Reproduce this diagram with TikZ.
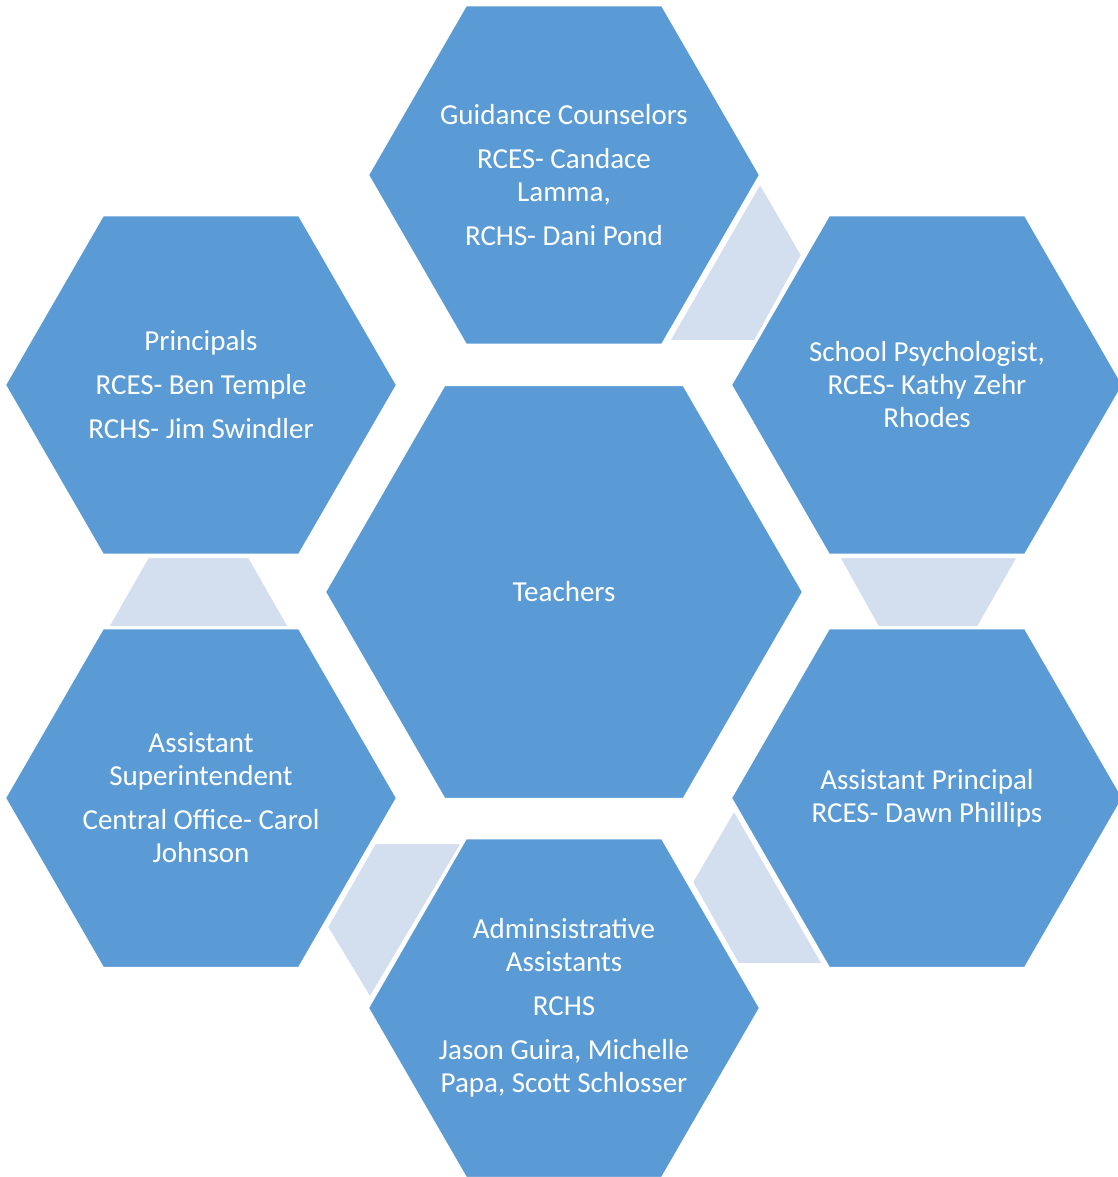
\documentclass[tikz,border=0pt]{standalone}
\usepackage{fontspec}
\setmainfont{Carlito}
\usetikzlibrary{shapes.geometric}

\definecolor{hexblue}{HTML}{5B9BD5}
\definecolor{linkblue}{HTML}{D3DEEF}

\begin{document}
\begin{tikzpicture}[x=0.5pt,y=-0.5pt,
        hexsty/.style={
            regular polygon, regular polygon sides=6,
            draw=white, line width=1pt, fill=hexblue,
            minimum size=196pt, inner sep=-25pt,
            text=white, align=center,
            font=\fontsize{14.5}{16.5}\selectfont,
        },
        bighexsty/.style={hexsty, minimum size=239pt},
        linksty/.style={fill=linkblue, draw=white, line width=1pt},
    ]
    \useasboundingbox (0,0) rectangle (1118,1177);

    % links behind the hexagons
    \filldraw[linksty] (669,341) -- (760,183) -- (802,255) -- (755,341) -- cycle;
    \filldraw[linksty] (839,557) -- (1018,557) -- (978,627) -- (878,627) -- cycle;
    \filldraw[linksty] (734,810) -- (823,964) -- (738,964) -- (692,882) -- cycle;
    \filldraw[linksty] (375,843) -- (462,843) -- (370,998) -- (327,927) -- cycle;
    \filldraw[linksty] (148,557) -- (249,557) -- (289,627) -- (108,627) -- cycle;

    \node[bighexsty] at (564,592) (teach) {Teachers};

    \node[hexsty] at (564,175) (guid) {Guidance Counselors\\[5.5pt]
        RCES- Candace\\ Lamma,\\[5.5pt] RCHS- Dani Pond};
    \node[hexsty] at (927,385) (psych) {School Psychologist,\\
        RCES- Kathy Zehr\\ Rhodes};
    \node[hexsty] at (927,798) (asspr) {Assistant Principal\\
        RCES- Dawn Phillips};
    \node[hexsty] at (564,1008) (admin) {Adminsistrative\\ Assistants\\[5.5pt]
        RCHS\\[5.5pt] Jason Guira, Michelle\\ Papa, Scott Schlosser};
    \node[hexsty] at (201,798) (asssup) {Assistant\\ Superintendent\\[5.5pt]
        Central Office- Carol\\ Johnson};
    \node[hexsty] at (201,385) (princ) {Principals\\[5.5pt]
        RCES- Ben Temple\\[5.5pt] RCHS- Jim Swindler};

\end{tikzpicture}
\end{document}
